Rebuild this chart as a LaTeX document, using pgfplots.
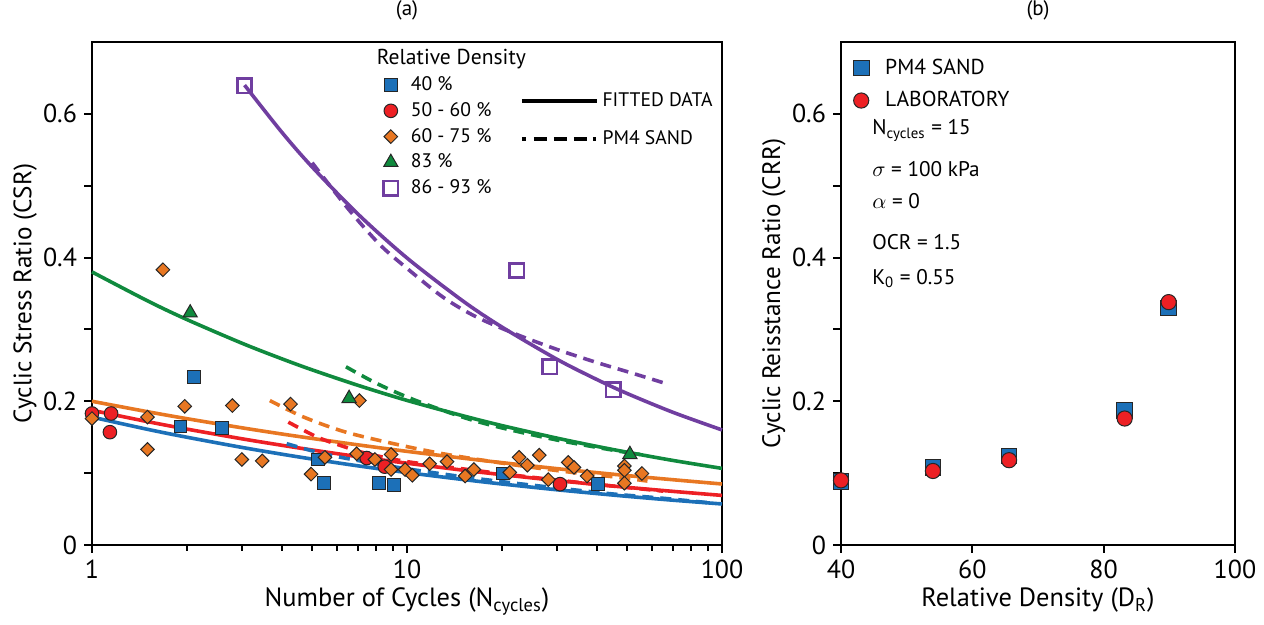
\documentclass[border=0pt]{standalone}
\usepackage{fontspec}
\setmainfont{PT Sans}
\usepackage{pgfplots}
\pgfplotsset{compat=1.18}

\definecolor{cblue}{RGB}{28,112,184}
\definecolor{cred}{RGB}{237,32,36}
\definecolor{corange}{RGB}{232,119,34}
\definecolor{cgreen}{RGB}{16,138,62}
\definecolor{cpurple}{RGB}{112,62,160}

\pgfplotsset{
  panel/.style={
    scale only axis, height=251.5pt,
    axis line style={line width=1pt},
    every tick/.style={line width=1pt, black},
    major tick length=4pt, tick align=outside,
    xtick pos=bottom, ytick pos=left,
    ymin=0, ymax=0.7,
    ytick={0,0.1,0.2,0.3,0.4,0.5,0.6},
    yticklabels={0,,0.2,,0.4,,0.6},
    ticklabel style={font=\fontsize{13}{15}\selectfont},
    xlabel style={font=\fontsize{13.2}{15}\selectfont},
    ylabel style={font=\fontsize{12.6}{15}\selectfont},
    title style={font=\fontsize{10.5}{12}\selectfont, at={(axis description cs:0.5,1)}, anchor=center, yshift=12pt},
    /pgf/number format/assume math mode=true,
    clip=false,
  },
  fit/.style={line width=1.8pt, smooth},
  pm4/.style={line width=1.8pt, smooth, dash pattern=on 5.5pt off 3.5pt},
  % marker-only legend image: mark at 4pt, text starting at #1
  scat/.style={only marks,
    legend image code/.code={\draw[mark repeat=2,mark phase=2,##1] plot coordinates {(0pt,0pt)(4pt,0pt)(8pt,0pt)}; \path[draw=none,fill=none] (0pt,0pt) (#1,0pt);}},
}

\begin{document}
\begin{tikzpicture}
\useasboundingbox (-46pt,-40pt) rectangle (586pt,272.5pt);

% ---------------- (a) CSR versus number of cycles ----------------
\begin{axis}[panel, at={(0,0)}, anchor=south west, width=315pt,
  xmode=log, xmin=1, xmax=100, xtick={1,10,100}, xticklabels={1,10,100},
  minor xtick={},
  xlabel={Number of Cycles (N\textsubscript{cycles})},
  xlabel style={at={(axis description cs:0.5,0)}, anchor=base, yshift=-31pt},
  ylabel={Cyclic Stress Ratio (CSR)},
  ylabel style={at={(axis description cs:-0.106,0.5)}, anchor=center},
  title={(a)},
  title style={yshift=-2pt},
  legend style={draw=none, fill=none, at={(0.461,0.940)}, anchor=north west,
    font=\fontsize{9.8}{11}\selectfont, row sep=0.4pt, inner sep=0pt,
    cells={anchor=west}},
]
% fitted curves
\addplot[fit, cblue, forget plot] coordinates {(1,0.178)(1.5,0.161)(2,0.150)(3,0.1357)(4,0.1264)(5,0.1196)(7,0.1101)(10,0.1008)(15,0.0912)(20,0.0849)(30,0.0768)(40,0.0716)(50,0.0677)(70,0.0623)(100,0.0571)};
\addplot[fit, cred, forget plot] coordinates {(1,0.1875)(1.5,0.1717)(2,0.1613)(3,0.1477)(4,0.1388)(5,0.1322)(7,0.1229)(10,0.1138)(15,0.1042)(20,0.0979)(30,0.0896)(40,0.0842)(50,0.0802)(70,0.0746)(100,0.0690)};
\addplot[fit, corange, forget plot] coordinates {(1,0.200)(1.5,0.1855)(2,0.1758)(3,0.1630)(4,0.1545)(5,0.1483)(7,0.1393)(10,0.1303)(15,0.1209)(20,0.1146)(30,0.1062)(40,0.1007)(50,0.0966)(70,0.0908)(100,0.0849)};
\addplot[fit, cgreen, forget plot] coordinates {(1,0.380)(1.5,0.3398)(2,0.3138)(3,0.2806)(4,0.2592)(5,0.2437)(7,0.2221)(10,0.2012)(15,0.1800)(20,0.1662)(30,0.1486)(40,0.1373)(50,0.1291)(70,0.1176)(100,0.1066)};
\addplot[fit, cpurple, forget plot] coordinates {(3.05,0.640)(4,0.5747)(5,0.5260)(7,0.4602)(10,0.3994)(15,0.3400)(20,0.3034)(30,0.2582)(40,0.2304)(50,0.2108)(70,0.1845)(100,0.1601)};
% PM4 SAND simulations
\addplot[pm4, cblue, forget plot] coordinates {(4.15,0.141)(5,0.131)(6,0.123)(8,0.113)(10,0.106)(15,0.095)(22,0.086)(32,0.078)(45,0.071)(65,0.065)(90,0.059)};
\addplot[pm4, cred, forget plot] coordinates {(4.2,0.171)(5.2,0.150)(6.3,0.137)(7.5,0.127)(10,0.116)(15,0.106)(22,0.097)(32,0.089)(45,0.082)(65,0.075)};
\addplot[pm4, corange, forget plot] coordinates {(3.67,0.201)(4.7,0.178)(6.4,0.157)(9.5,0.139)(13,0.127)(18,0.117)(25,0.108)(35,0.100)(45,0.095)(58,0.089)};
\addplot[pm4, cgreen, forget plot] coordinates {(6.4,0.248)(8,0.225)(10.4,0.203)(15,0.178)(20,0.163)(30,0.146)(45,0.132)(55,0.126)};
\addplot[pm4, cpurple, forget plot] coordinates {(5.0,0.532)(6.5,0.468)(8.2,0.418)(10,0.385)(13,0.345)(16.5,0.318)(22,0.294)(30,0.272)(40,0.254)(52,0.239)(66,0.225)};
% laboratory results
\addplot[scat=12pt, mark=square*, mark size=3.2pt, mark options={fill=cblue, draw=black!85, line width=0.5pt}] coordinates {
 (1.91,0.165)(2.11,0.234)(2.59,0.163)(5.23,0.119)(5.46,0.0866)(8.17,0.0866)(9.1,0.084)(20.2,0.0995)(40.5,0.0847)};
\addlegendentry{40 \%}
\addplot[scat=12pt, mark=*, mark size=3.4pt, mark options={fill=cred, draw=black!85, line width=0.5pt}] coordinates {
 (1.0,0.183)(1.15,0.183)(1.14,0.157)(7.45,0.121)(8.5,0.109)(30.6,0.0847)};
\addlegendentry{50 - 60 \%}
\addplot[scat=12pt, mark=square*, mark size=2.4pt, mark options={rotate=45, fill=corange, draw=black!85, line width=0.5pt}] coordinates {
 (1.0,0.176)(1.5,0.178)(1.5,0.133)(1.68,0.383)(1.97,0.193)(2.79,0.194)(2.99,0.119)(3.47,0.117)(4.27,0.196)(4.96,0.0986)(5.49,0.122)
 (7.06,0.201)(6.92,0.127)(7.91,0.119)(8.9,0.126)(8.9,0.105)(9.86,0.105)(10.4,0.097)(11.8,0.113)(13.4,0.116)(15.3,0.096)(16.3,0.105)
 (21.2,0.101)(22.7,0.122)(24.1,0.111)(26.3,0.125)(28.1,0.091)(32.5,0.115)(33.9,0.108)(37.3,0.096)(49,0.110)(49,0.104)(49,0.086)(55.7,0.0995)};
\addlegendentry{60 - 75 \%}
\addplot[scat=12pt, mark=triangle*, mark size=4.1pt, mark options={fill=cgreen, draw=black!85, line width=0.5pt}] coordinates {
 (2.05,0.323)(6.55,0.204)(51,0.126)};
\addlegendentry{83 \%}
\addplot[scat=12pt, mark=square, mark size=3.6pt, mark options={draw=cpurple, line width=1.3pt}] coordinates {
 (3.05,0.639)(22.3,0.382)(28.4,0.248)(45.2,0.216)};
\addlegendentry{86 - 93 \%}
\node[anchor=west, font=\fontsize{10.8}{12}\selectfont] at (rel axis cs:0.441,0.966) {Relative Density};
\end{axis}

% line-style key for panel (a)
\begin{axis}[scale only axis, at={(0,0)}, anchor=south west, width=315pt, height=251.5pt,
  hide axis, xmin=0, xmax=1, ymin=0, ymax=1,
  legend style={draw=none, fill=none, at={(0.679,0.908)}, anchor=north west,
    font=\fontsize{9.8}{11}\selectfont, row sep=6.5pt, inner sep=0pt, cells={anchor=west}},
  legend image code/.code={\draw[#1] (0pt,0pt) -- (37.5pt,0pt);},
]
\addlegendimage{black, line width=1.7pt}
\addlegendentry{FITTED DATA}
\addlegendimage{black, line width=1.7pt, dash pattern=on 2pt off 4pt on 6.5pt off 3.5pt on 6.5pt off 3.5pt on 6.5pt off 3pt on 1.5pt}
\addlegendentry{PM4 SAND}
\end{axis}

% ---------------- (b) CRR versus relative density ----------------
\begin{axis}[panel, at={(374.5pt,0)}, anchor=south west, width=197pt,
  xmin=40, xmax=100, xtick={40,60,80,100},
  xlabel={Relative Density (D\textsubscript{R})},
  xlabel style={at={(axis description cs:0.5,0)}, anchor=base, yshift=-31pt},
  ylabel={Cyclic Reisstance Ratio (CRR)},
  ylabel style={at={(axis description cs:-0.17,0.5)}, anchor=center},
  title={(b)},
  title style={yshift=-2pt},
  legend style={draw=none, fill=none, at={(0.03,0.975)}, anchor=north west,
    font=\fontsize{10.8}{12}\selectfont, row sep=3pt, inner sep=0pt,
    cells={anchor=west}},
]
\addplot[scat=14pt, mark=square*, mark size=3.9pt, mark options={fill=cblue, draw=black!85, line width=0.5pt}] coordinates {
 (40.0,0.088)(54.0,0.108)(65.6,0.124)(83.2,0.187)(89.9,0.330)};
\addlegendentry{PM4 SAND}
\addplot[scat=14pt, mark=*, mark size=3.8pt, mark options={fill=cred, draw=black!85, line width=0.5pt}] coordinates {
 (40.0,0.090)(54.0,0.103)(65.6,0.118)(83.2,0.176)(89.9,0.338)};
\addlegendentry{LABORATORY}
\begin{scope}[every node/.style={anchor=west, font=\fontsize{10.6}{12}\selectfont, inner sep=0pt}]
\node at (axis cs:44.7,0.577) {N\textsubscript{cycles} = 15};
\node at (axis cs:44.7,0.523) {$\sigma$ = 100 kPa};
\node at (axis cs:44.7,0.478) {$\alpha$ = 0};
\node at (axis cs:44.7,0.421) {OCR = 1.5};
\node at (axis cs:44.7,0.371) {K\textsubscript{0} = 0.55};
\end{scope}
\end{axis}
\end{tikzpicture}
\end{document}
